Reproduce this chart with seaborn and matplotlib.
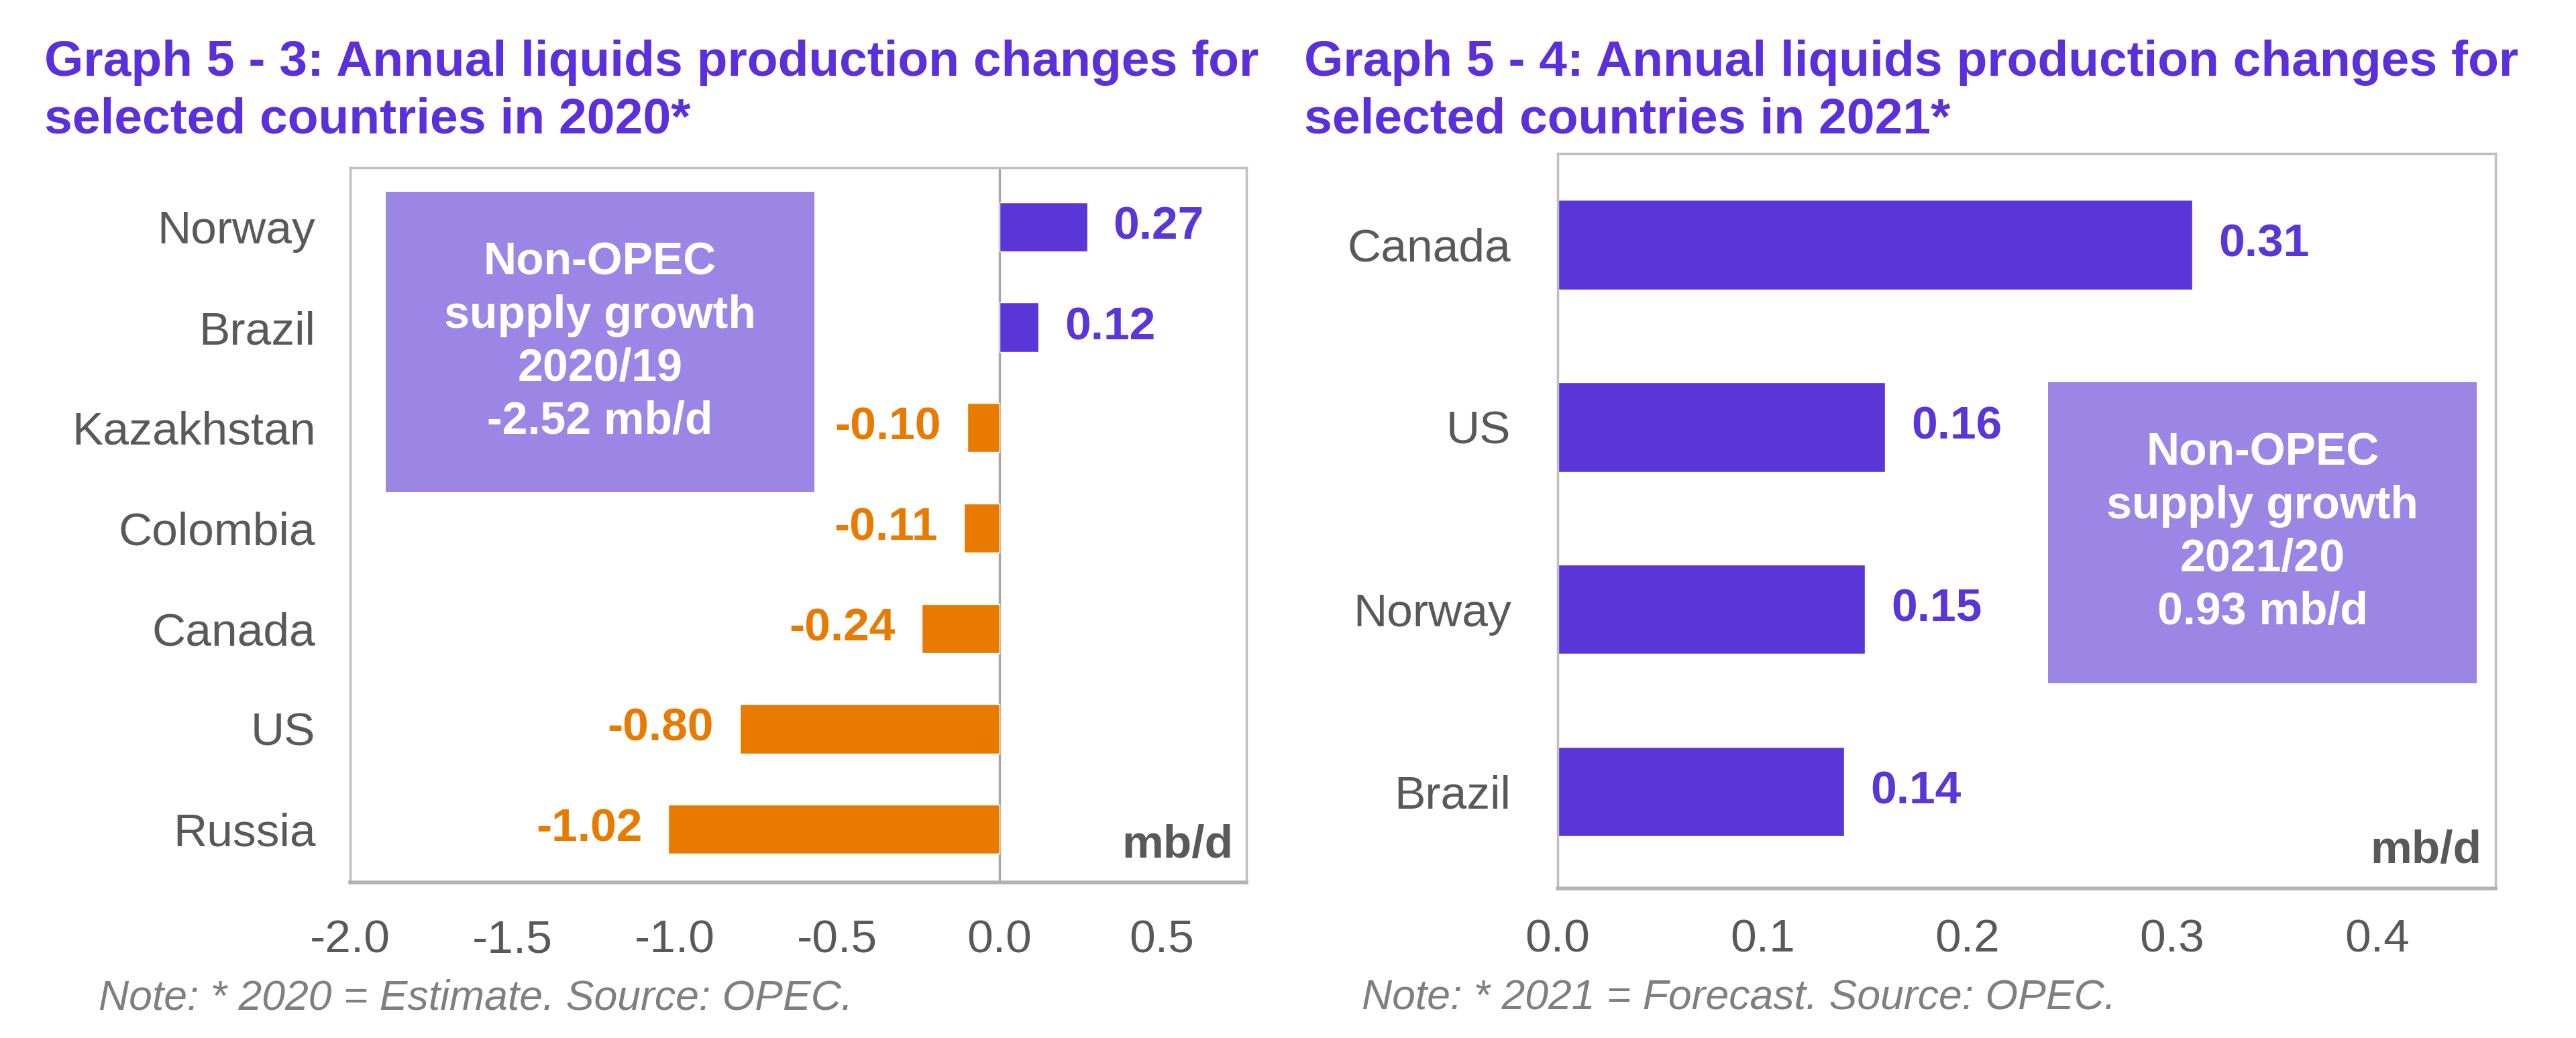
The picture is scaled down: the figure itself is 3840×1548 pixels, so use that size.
import matplotlib
matplotlib.use('Agg')
import matplotlib.pyplot as plt
import seaborn as sns
import pandas as pd
import numpy as np
from matplotlib.patches import Rectangle

# ---------------- data ----------------
left_countries = ['Norway', 'Brazil', 'Kazakhstan', 'Colombia', 'Canada', 'US', 'Russia']
left_values = [0.27, 0.12, -0.10, -0.11, -0.24, -0.80, -1.02]
left_ticks = [-2.0, -1.5, -1.0, -0.5, 0.0, 0.5]

right_countries = ['Canada', 'US', 'Norway', 'Brazil']
right_values = [0.31, 0.16, 0.15, 0.14]
right_ticks = [0.0, 0.1, 0.2, 0.3, 0.4]

left_title = 'Graph 5 - 3: Annual liquids production changes for\nselected countries in 2020*'
right_title = 'Graph 5 - 4: Annual liquids production changes for\nselected countries in 2021*'
left_box = 'Non-OPEC\nsupply growth\n2020/19\n-2.52 mb/d'
right_box = 'Non-OPEC\nsupply growth\n2021/20\n0.93 mb/d'
left_note = 'Note: * 2020 = Estimate. Source: OPEC.'
right_note = 'Note: * 2021 = Forecast. Source: OPEC.'
unit_label = 'mb/d'

# ---------------- style ----------------
PURPLE = '#5A36D8'
ORANGE = '#E87A00'
BOXC = '#9B86E6'
GREY = '#595959'
TITLEC = '#5B2FDB'
FRAME = '#BFBFBF'

sns.set_theme(style='white')
plt.rcParams['font.family'] = ['Liberation Sans', 'DejaVu Sans']
plt.rcParams['axes.unicode_minus'] = False

fig = plt.figure(figsize=(38.4, 15.48), dpi=100)
axL = fig.add_axes([0.1359, 0.1499, 0.3479, 0.6886])
axR = fig.add_axes([0.6047, 0.1441, 0.3641, 0.7080])


def draw(ax, cats, vals, ticks, xlim, ylim, box_text, box_rect, xpad, ypad, zero_line):
    df = pd.DataFrame({'country': cats, 'value': vals})
    df['sign'] = np.where(df['value'] >= 0, 'pos', 'neg')
    levels = [lv for lv in ['pos', 'neg'] if lv in set(df['sign'])]
    sns.barplot(data=df, y='country', x='value', hue='sign', hue_order=levels,
                palette={'pos': PURPLE, 'neg': ORANGE}, order=cats, orient='h',
                dodge=False, width=0.49, legend=False, saturation=1, ax=ax, zorder=2)
    for c in ax.containers:
        v = np.asarray(c.datavalues)
        col = PURPLE if np.nanmean(v) >= 0 else ORANGE
        ax.bar_label(c, fmt='%.2f', padding=28, color=col, fontsize=50,
                     fontweight='bold')
    if zero_line:
        ax.axvline(0, color='#A6A6A6', lw=2.5, zorder=1)
    ax.set_xlim(*xlim)
    ax.set_ylim(*ylim)
    ax.set_xticks(ticks)
    ax.set_xticklabels([f'{t:.1f}' for t in ticks])
    ax.set_xlabel('')
    ax.set_ylabel('')
    ax.tick_params(axis='x', length=0, labelsize=50, labelcolor=GREY, pad=xpad)
    ax.tick_params(axis='y', length=0, labelsize=50, labelcolor=GREY, pad=ypad)
    for s in ax.spines.values():
        s.set_visible(True)
        s.set_color(FRAME)
        s.set_linewidth(2.5)
    ax.spines['bottom'].set_linewidth(4)
    ax.spines['bottom'].set_color('#B3B3B3')
    x0, y0, x1, y1 = box_rect
    ax.add_patch(Rectangle((x0, y0), x1 - x0, y1 - y0, transform=ax.transAxes,
                           facecolor=BOXC, edgecolor='none', zorder=3))
    ax.text((x0 + x1) / 2, (y0 + y1) / 2, box_text, transform=ax.transAxes,
            ha='center', va='center', color='white', fontsize=49,
            fontweight='bold', linespacing=1.3, zorder=4)
    ax.text(0.985, 0.035, unit_label, transform=ax.transAxes, ha='right',
            va='baseline', color=GREY, fontsize=50, fontweight='bold', zorder=4)


draw(axL, left_countries, left_values, left_ticks, (-2.0, 0.76), (6.53, -0.59),
     left_box, (0.040, 0.546, 0.518, 0.966), 39, 37, True)
draw(axR, right_countries, right_values, right_ticks, (0.0, 0.458), (3.53, -0.5),
     right_box, (0.523, 0.279, 0.980, 0.689), 32, 50, False)

fig.text(0.0172, 0.962, left_title, ha='left', va='top', color=TITLEC,
         fontsize=54, fontweight='bold', linespacing=1.3)
fig.text(0.5063, 0.962, right_title, ha='left', va='top', color=TITLEC,
         fontsize=54, fontweight='bold', linespacing=1.3)
fig.text(0.0383, 0.0381, left_note, ha='left', va='center', color='#7F7F7F',
         fontsize=45, style='italic')
fig.text(0.5286, 0.0381, right_note, ha='left', va='center', color='#7F7F7F',
         fontsize=45, style='italic')

fig.savefig('out.png', dpi=100, facecolor='white')
